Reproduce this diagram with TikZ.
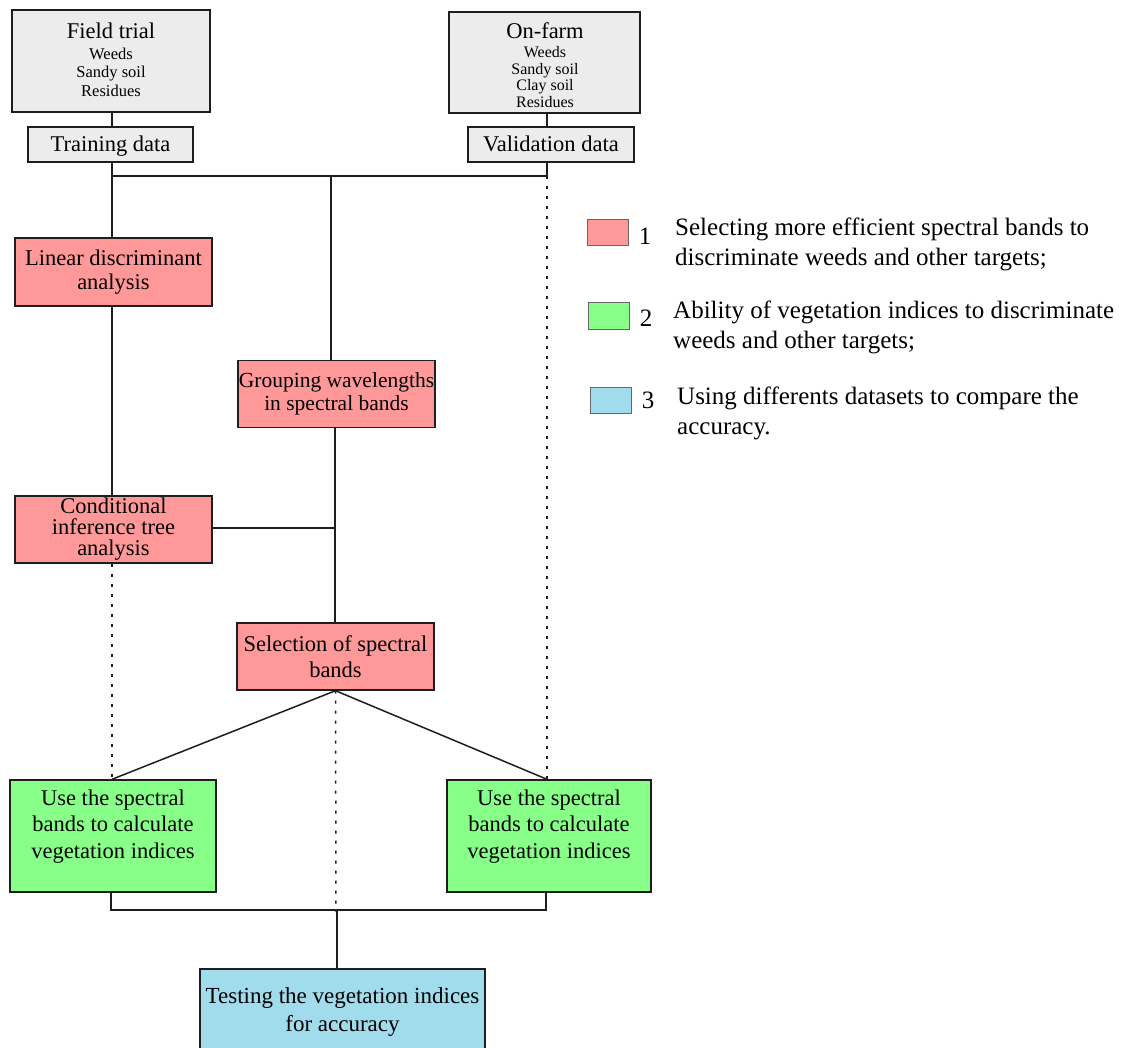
\documentclass[tikz,border=0pt]{standalone}
\usepackage{fontspec}
\setmainfont{Liberation Serif}
\usetikzlibrary{calc}
\definecolor{pinkf}{RGB}{255,153,153}
\definecolor{greenf}{RGB}{136,255,136}
\definecolor{bluef}{RGB}{160,220,236}
\definecolor{grayf}{RGB}{236,236,236}
\definecolor{edge}{RGB}{30,30,30}
\begin{document}
\begin{tikzpicture}[x=1pt,y=-1pt,
  box/.style={draw=edge, line width=1.4pt, inner sep=0pt, align=center, font=\fontsize{22.5}{24}\selectfont},
  plain/.style={inner sep=0pt, align=center},
  link/.style={line width=1.5pt, draw=edge},
  dots/.style={line width=1.5pt, draw=edge, dash pattern=on 3pt off 7pt},
  legsq/.style={draw=black!60, line width=1pt, minimum width=41pt, minimum height=26pt, inner sep=0pt},
  legnum/.style={inner sep=0pt, font=\fontsize{25}{30}\selectfont},
  legtxt/.style={anchor=west, align=left, inner sep=0pt, font=\fontsize{25}{30}\selectfont}
]
\useasboundingbox (0,0) rectangle (1126,1048);

% top source boxes
\node[box, fill=grayf, minimum width=198pt, minimum height=102pt] (field) at (111,61) {};
\node[plain, font=\fontsize{22.5}{24}\selectfont] (fieldT) at (111,31) {Field trial};
\node[plain, font=\fontsize{16.5}{18.5}\selectfont] (fieldL) at (111,72) {Weeds\\Sandy soil\\Residues};

\node[box, fill=grayf, minimum width=191pt, minimum height=101pt] (onfarm) at (544.5,62.5) {};
\node[plain, font=\fontsize{22.5}{24}\selectfont] (onfarmT) at (545,31) {On-farm};
\node[plain, font=\fontsize{16}{16.8}\selectfont] (onfarmL) at (545,77) {Weeds\\Sandy soil\\Clay soil\\Residues};

\node[box, fill=grayf, minimum width=165pt, minimum height=35pt, text height=17pt, text depth=3pt] (training) at (110.5,144.5) {Training data};
\node[box, fill=grayf, minimum width=166pt, minimum height=35pt, text height=17pt, text depth=3pt] (validation) at (551,144.5) {Validation data};

% process boxes
\node[box, fill=pinkf, minimum width=197pt, minimum height=68pt, font=\fontsize{22.5}{23.5}\selectfont] (lda) at (113.5,272) {Linear discriminant\\analysis};
\node[box, fill=pinkf, minimum width=197pt, minimum height=67pt, font=\fontsize{21.5}{22.5}\selectfont] (group) at (336.5,394) {Grouping wavelengths\\in spectral bands};
\node[box, fill=pinkf, minimum width=197pt, minimum height=67pt, font=\fontsize{22.5}{21}\selectfont] (cond) at (113.5,529.5) {Conditional\\inference tree\\analysis};
\node[box, fill=pinkf, minimum width=197pt, minimum height=67pt, font=\fontsize{22.5}{26}\selectfont] (sel) at (335.5,656.5) {Selection of spectral\\bands};

\node[box, fill=greenf, minimum width=206pt, minimum height=112pt] (lg) at (113,836) {};
\node[plain, font=\fontsize{22.5}{26.5}\selectfont] (lgT) at (113,826.5) {Use the spectral\\bands to calculate\\vegetation indices};
\node[box, fill=greenf, minimum width=204pt, minimum height=112pt] (rg) at (549,836) {};
\node[plain, font=\fontsize{22.5}{26.5}\selectfont] (rgT) at (549,826.5) {Use the spectral\\bands to calculate\\vegetation indices};

\node[box, fill=bluef, minimum width=285pt, minimum height=86pt, font=\fontsize{23}{28}\selectfont] (test) at (342.5,1012) {Testing the vegetation indices\\for accuracy};

% junction points
\coordinate (tl) at (112,176);
\coordinate (tm) at (331,176);
\coordinate (tr) at (547,176);
\coordinate (gx) at (335,528);
\coordinate (dm) at (336,912);
\coordinate (bl) at (111,910);
\coordinate (bm) at (337,910);
\coordinate (br) at (546,910);

% connectors
\draw[link] (field.south -| tl) -- (training.north -| tl);
\draw[link] (onfarm.south -| tr) -- (validation.north -| tr);
\draw[link] (training.south -| tl) -- (tl) -- (tr) -- (validation.south -| tr);
\draw[link] (tl) -- (lda.north -| tl);
\draw[link] (tm) -- (group.north -| tm);
\draw[dots] (tr) -- (rg.north -| tr);
\draw[link] (lda.south -| tl) -- (cond.north -| tl);
\draw[link] (group.south -| gx) -- (sel.north -| gx);
\draw[link] (cond.east |- gx) -- (gx);
\draw[dots] (cond.south -| tl) -- (lg.north -| tl);
\draw[link] (lg.north -| tl) -- (sel.south) -- (rg.north -| tr);
\draw[dots] (sel.south) -- (dm);
\draw[link] (lg.south -| bl) -- (bl) -- (br) -- (rg.south -| br);
\draw[link] (bm) -- (test.north -| bm);

% legend
\node[legsq, fill=pinkf] (sq1) at (607.5,233) {};
\node[legnum] (n1) at (645,236) {1};
\node[legtxt] (t1) at (675,244) {Selecting more efficient spectral bands to\\discriminate weeds and other targets;};
\node[legsq, fill=greenf] (sq2) at (608.5,316) {};
\node[legnum] (n2) at (646,318) {2};
\node[legtxt] (t2) at (673,327) {Ability of vegetation indices to discriminate\\weeds and other targets;};
\node[legsq, fill=bluef] (sq3) at (610.5,400) {};
\node[legnum] (n3) at (648,400) {3};
\node[legtxt] (t3) at (677,413) {Using differents datasets to compare the\\accuracy.};
\end{tikzpicture}
\end{document}
